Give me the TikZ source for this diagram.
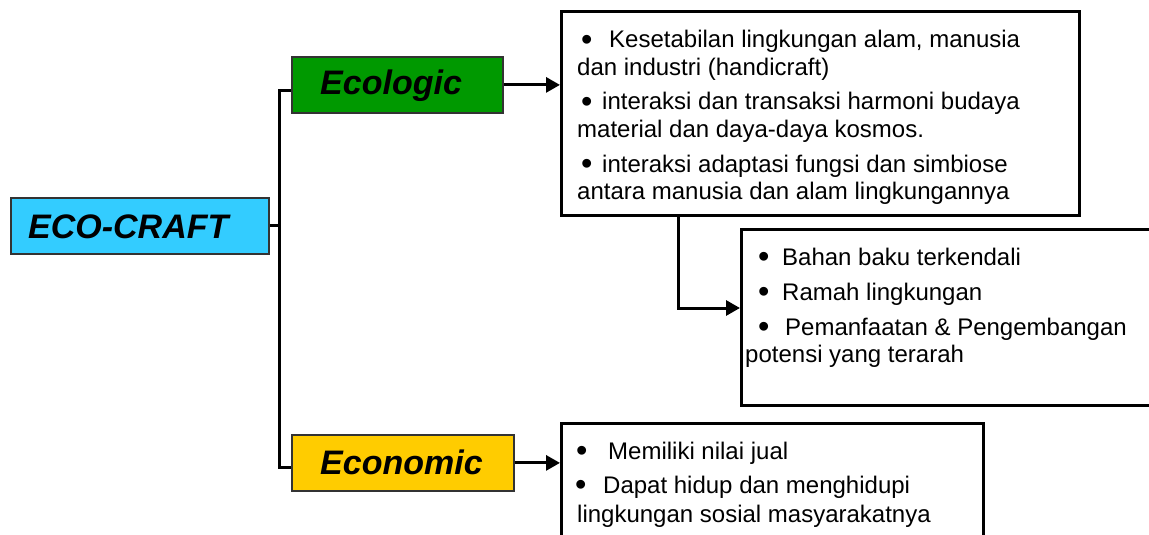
\documentclass[tikz,border=0pt]{standalone}
\usepackage{fontspec}
\setmainfont{Liberation Sans}
\usetikzlibrary{arrows.meta}
\definecolor{ecocyan}{HTML}{33CCFF}
\definecolor{ecogreen}{HTML}{009900}
\definecolor{ecoyellow}{HTML}{FFCC00}
\definecolor{hdrborder}{HTML}{333333}
\newcommand{\mybul}[1]{\makebox[#1pt][l]{\raisebox{-2.2pt}{\scalebox{1.35}{•}}}}
\tikzset{
  hdrbox/.style={draw=hdrborder, line width=1.8pt, rectangle, anchor=north west, inner sep=0pt},
  hdrtext/.style={anchor=base west, inner sep=0pt, font=\fontsize{34}{40}\selectfont\bfseries\itshape},
  plainbox/.style={draw=black, line width=2.8pt, rectangle, anchor=north west, inner sep=0pt, fill=white},
  bodyline/.style={anchor=base west, inner sep=0pt, font=\fontsize{24}{27}\selectfont},
  conn/.style={draw=black, line width=3pt},
  arr/.style={conn, -{Triangle[length=14pt,width=15pt]}}
}
\begin{document}
\begin{tikzpicture}[x=1pt,y=-1pt]
\useasboundingbox (0,0) rectangle (1149,535);
\clip (0,0) rectangle (1149,535);
% header boxes
\node[hdrbox, fill=ecocyan, minimum width=258pt, minimum height=56pt] (eco) at (10,197) {};
\node[hdrtext] (ecot) at (28,238) {ECO-CRAFT};
\node[hdrbox, fill=ecogreen, minimum width=211pt, minimum height=56pt] (ecol) at (291,56) {};
\node[hdrtext] (ecolt) at (320,95) {Ecologic};
\node[hdrbox, fill=ecoyellow, minimum width=222pt, minimum height=56pt] (econ) at (291,434) {};
\node[hdrtext] (econt) at (320,474) {Economic};
% content boxes
\node[plainbox, minimum width=518pt, minimum height=204pt] (topbox) at (560,10) {};
\node[plainbox, minimum width=430pt, minimum height=176pt] (midbox) at (740,228) {};
\node[plainbox, minimum width=422pt, minimum height=130pt] (botbox) at (560,422) {};
% spine connectors
\coordinate (jTop) at (279,91);
\coordinate (jBot) at (279,467);
\draw[conn] (jTop -| ecol.west) -- (jTop) -- (jBot) -- (jBot -| econ.west);
\draw[conn] (eco.east) -- (eco.east -| jTop);
\draw[arr] (ecol.east) -- (ecol.east -| topbox.west);
\draw[arr] (econ.east) -- (econ.east -| botbox.west);
\coordinate (drop) at (678,214);
\coordinate (midin) at (740,308);
\draw[arr] (topbox.south -| drop) |- (midin);
% top box text
\node[bodyline] (t1) at (581,48) {\mybul{28}Kesetabilan lingkungan alam, manusia};
\node[bodyline] (t2) at (577,75) {dan industri (handicraft)};
\node[bodyline] (t3) at (581,110) {\mybul{21}interaksi dan transaksi harmoni budaya};
\node[bodyline] (t4) at (577,137) {material dan daya-daya kosmos.};
\node[bodyline] (t5) at (581,172) {\mybul{21}interaksi adaptasi fungsi dan simbiose};
\node[bodyline] (t6) at (577,199) {antara manusia dan alam lingkungannya};
% middle box text
\node[bodyline] (m1) at (758,265) {\mybul{24}Bahan baku terkendali};
\node[bodyline] (m2) at (758,300) {\mybul{24}Ramah lingkungan};
\node[bodyline] (m3) at (758,335) {\mybul{27}Pemanfaatan \& Pengembangan};
\node[bodyline] (m4) at (745,362) {potensi yang terarah};
% bottom box text
\node[bodyline] (b1) at (576,459) {\mybul{32}Memiliki nilai jual};
\node[bodyline] (b2) at (575,493) {\mybul{28}Dapat hidup dan menghidupi};
\node[bodyline] (b3) at (577,522) {lingkungan sosial masyarakatnya};
\end{tikzpicture}
\end{document}
